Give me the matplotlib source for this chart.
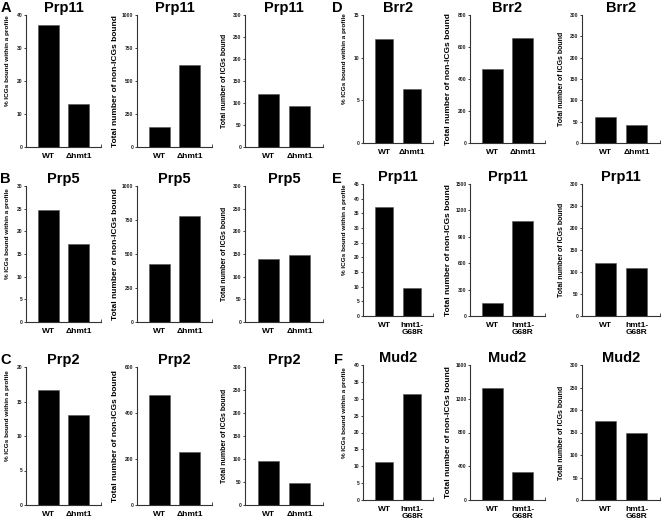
import matplotlib
matplotlib.use("Agg")
import matplotlib.pyplot as plt

plt.rcParams['font.family'] = ['Liberation Sans', 'DejaVu Sans']
plt.rcParams['font.weight'] = 'bold'

W, H = 664, 521

# --- data -------------------------------------------------------------
panels = ["A", "B", "C", "D", "E", "F"]
proteins = ["Prp11", "Prp5", "Prp2", "Brr2", "Prp11", "Mud2"]
labels_hmt = ["WT", "\u0394hmt1"]
labels_g68r = ["WT", "hmt1-\nG68R"]
strains = [labels_hmt, labels_hmt, labels_hmt, labels_hmt, labels_g68r, labels_g68r]

# % ICGs bound within a profile
pct_icg = [[37.1, 12.9], [24.7, 17.1], [16.7, 13.0], [12.2, 6.3], [37.2, 9.4], [11.2, 31.5]]
pct_max = [40, 30, 20, 15, 45, 40]
pct_step = [10, 5, 5, 5, 5, 5]

# total number of non-ICGs bound
non_icg = [[149, 621], [425, 780], [477, 230], [462, 654], [150, 1076], [1330, 326]]
non_max = [1000, 1000, 600, 800, 1500, 1600]
non_step = [250, 250, 200, 200, 300, 400]

# total number of ICGs bound
tot_icg = [[120, 93], [139, 148], [96, 47], [62, 42], [120, 110], [175, 149]]
tot_max = [300, 300, 300, 300, 300, 300]
tot_step = [50, 50, 50, 50, 50, 50]

ylabels = ["% ICGs bound within a profile", "Total number of non-ICGs bound",
           "Total number of ICGs bound"]

# --- layout (pixels) --------------------------------------------------
col_x = [[(26, 101), (137, 212), (245, 323)],
         [(363, 433), (470, 545), (582, 660)]]
row_y = [(15, 147), (186, 322), (367, 505), (15, 143), (184, 316), (365, 500)]
letter_xy = [(1, 8), (0, 179), (0, 360), (332, 8), (332, 179), (334, 360)]
ylab_size = [4.6, 6.0, 5.0]
ylab_off = [-16, -18, -17]
ylab_shift = [20, 0, 0]

fig = plt.figure(figsize=(W / 100, H / 100), dpi=100)


def add_ax(x0, x1, y0, y1):
    return fig.add_axes([x0 / W, 1 - y1 / H, (x1 - x0) / W, (y1 - y0) / H])


for p in range(6):
    col = 0 if p < 3 else 1
    vals = [pct_icg[p], non_icg[p], tot_icg[p]]
    ymax = [pct_max[p], non_max[p], tot_max[p]]
    ystep = [pct_step[p], non_step[p], tot_step[p]]
    for k in range(3):
        x0, x1 = col_x[col][k]
        y0, y1 = row_y[p]
        ax = add_ax(x0, x1, y0, y1)
        ax.bar([0, 1], vals[k], width=0.67, color='black', edgecolor='#555555', linewidth=0.4)
        ax.set_xlim(-0.75, 1.75)
        ax.set_ylim(0, ymax[k])
        ax.set_yticks(range(0, ymax[k] + 1, ystep[k]))
        ax.set_xticks([0, 1])
        ax.set_xticklabels(strains[p], fontsize=6, fontweight='bold', linespacing=1.05)
        ax.set_xticks([1.75], minor=True)
        for s in ['top', 'right']:
            ax.spines[s].set_visible(False)
        for s in ['left', 'bottom']:
            ax.spines[s].set_linewidth(0.8)
            ax.spines[s].set_color('#333333')
        ax.tick_params(axis='y', direction='out', length=1.5, width=0.6, pad=1,
                       labelsize=3.6, colors='#222222')
        ax.tick_params(axis='x', which='major', length=0, pad=4)
        ax.tick_params(axis='x', which='minor', direction='in', length=2.5, width=0.6,
                       color='#333333')
        ax.set_ylabel(ylabels[k], fontsize=ylab_size[k], fontweight='bold')
        ax.yaxis.set_label_coords(ylab_off[k] / (x1 - x0),
                                  0.5 + ylab_shift[k] / (y1 - y0))
        ax.set_title(proteins[p], fontsize=10.5, fontweight='bold', pad=2)
    lx, ly = letter_xy[p]
    fig.text(lx / W, 1 - ly / H, panels[p], fontsize=10.5, fontweight='bold',
             ha='left', va='center')

fig.savefig("out.png", dpi=100)
